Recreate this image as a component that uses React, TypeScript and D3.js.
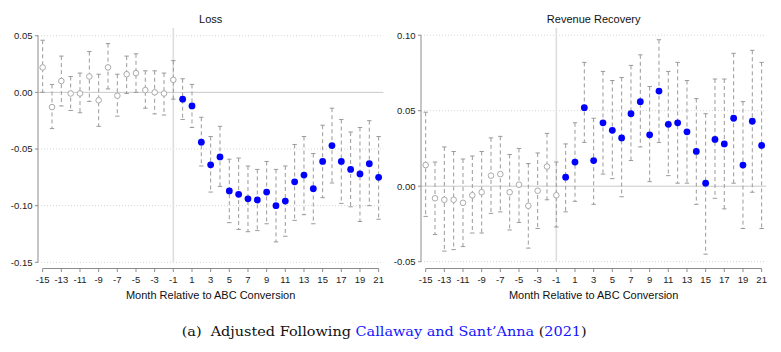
import React from "react";
import * as d3 from "d3";

const months = [
  -15, -14, -13, -12, -11, -10, -9, -8, -7, -6, -5, -4, -3, -2, -1, 0, 1, 2, 3,
  4, 5, 6, 7, 8, 9, 10, 11, 12, 13, 14, 15, 16, 17, 18, 19, 20, 21,
];
const xTicks = [-15, -13, -11, -9, -7, -5, -3, -1, 1, 3, 5, 7, 9, 11, 13, 15, 17, 19, 21];

// Loss panel
const lossEst = [
  0.022, -0.013, 0.01, -0.001, -0.001, 0.014, -0.007, 0.022, -0.003, 0.016, 0.017, 0.002, 0.0, -0.001,
  0.011, -0.006, -0.012, -0.044, -0.064, -0.057, -0.087, -0.09, -0.094, -0.095, -0.088, -0.1, -0.096,
  -0.079, -0.073, -0.085, -0.061, -0.047, -0.061, -0.068, -0.072, -0.063, -0.075,
];
const lossHi = [
  0.046, 0.007, 0.032, 0.014, 0.017, 0.036, 0.016, 0.043, 0.016, 0.032, 0.034, 0.019, 0.019, 0.017,
  0.028, 0.012, 0.007, -0.022, -0.039, -0.03, -0.059, -0.058, -0.065, -0.068, -0.061, -0.068, -0.065,
  -0.046, -0.039, -0.054, -0.029, -0.014, -0.024, -0.035, -0.031, -0.025, -0.039,
];
const lossLo = [
  0.0, -0.032, -0.012, -0.016, -0.018, -0.008, -0.03, 0.003, -0.021, -0.001, 0.0, -0.014, -0.019, -0.02,
  -0.006, -0.024, -0.031, -0.065, -0.088, -0.083, -0.115, -0.121, -0.123, -0.122, -0.116, -0.132, -0.127,
  -0.113, -0.108, -0.116, -0.093, -0.08, -0.098, -0.101, -0.114, -0.1, -0.112,
];
const lossTicks = [0.05, 0, -0.05, -0.1, -0.15];

// Revenue recovery panel
const revEst = [
  0.014, -0.008, -0.009, -0.009, -0.011, -0.006, -0.004, 0.007, 0.008, -0.004, 0.001, -0.013, -0.003,
  0.013, -0.006, 0.006, 0.016, 0.052, 0.017, 0.042, 0.037, 0.032, 0.048, 0.056, 0.034, 0.063, 0.041,
  0.042, 0.036, 0.023, 0.002, 0.031, 0.028, 0.045, 0.014, 0.043, 0.027,
];
const revHi = [
  0.049, 0.016, 0.026, 0.023, 0.018, 0.02, 0.023, 0.032, 0.033, 0.021, 0.025, 0.015, 0.022, 0.035,
  0.016, 0.028, 0.042, 0.082, 0.045, 0.076, 0.07, 0.072, 0.08, 0.087, 0.066, 0.097, 0.076, 0.082, 0.07,
  0.058, 0.048, 0.071, 0.071, 0.088, 0.056, 0.09, 0.082,
];
const revLo = [
  -0.02, -0.032, -0.043, -0.042, -0.04, -0.031, -0.031, -0.018, -0.017, -0.029, -0.024, -0.041, -0.028,
  -0.009, -0.027, -0.017, -0.01, 0.029, -0.012, 0.008, 0.005, -0.007, 0.017, 0.026, 0.003, 0.029, 0.007,
  0.002, 0.002, -0.012, -0.045, -0.008, -0.015, 0.002, -0.028, -0.004, -0.028,
];
const revTicks = [0.1, 0.05, 0, -0.05];

const FONT = "'Liberation Sans', Arial, sans-serif";
const fmt = (v: number) => d3.format(".2f")(v).replace("\u2212", "-");

type PanelProps = {
  title: string;
  left: number;
  right: number;
  yDomain: [number, number];
  yRange: [number, number];
  ticks: number[];
  est: number[];
  lo: number[];
  hi: number[];
};

const Panel = ({ title, left, right, yDomain, yRange, ticks, est, lo, hi }: PanelProps) => {
  const x = d3.scaleLinear().domain([-15.5, 21.5]).range([left, right]);
  const y = d3.scaleLinear().domain(yDomain).range(yRange);
  const axisY = 268.5;

  return (
    <g fontFamily={FONT}>
      {/* dotted grid */}
      {ticks.map((t) => (
        <line
          key={"g" + t}
          x1={left}
          x2={right}
          y1={y(t)}
          y2={y(t)}
          stroke={t === 0 ? "#c8c8c8" : "#d4d4d4"}
          strokeDasharray={t === 0 ? null : "1,2"}
          strokeWidth={1}
        />
      ))}
      {/* reference line at -1 */}
      <line x1={x(-1)} x2={x(-1)} y1={28} y2={yRange[0]} stroke="#dedede" strokeWidth={1.6} />

      {/* y axis */}
      <line x1={left} x2={left} y1={yRange[1]} y2={yRange[0]} stroke="#8c8c8c" />
      {ticks.map((t) => (
        <g key={"t" + t}>
          <line x1={left - 3} x2={left} y1={y(t)} y2={y(t)} stroke="#8c8c8c" />
          <text x={left - 5.5} y={y(t)} dy="0.35em" textAnchor="end" fontSize={9.5} fill="#222">
            {fmt(t)}
          </text>
        </g>
      ))}

      {/* x axis */}
      <line x1={x(-15)} x2={x(21)} y1={axisY} y2={axisY} stroke="#8c8c8c" />
      {xTicks.map((t) => (
        <g key={"x" + t}>
          <line x1={x(t)} x2={x(t)} y1={axisY} y2={axisY + 3.5} stroke="#8c8c8c" />
          <text x={x(t)} y={axisY + 14} textAnchor="middle" fontSize={9.5} fill="#222">
            {t}
          </text>
        </g>
      ))}
      <text x={(left + right) / 2} y={299} textAnchor="middle" fontSize={11} fill="#111">
        Month Relative to ABC Conversion
      </text>

      <text x={(left + right) / 2} y={23} textAnchor="middle" fontSize={11} fill="#111">
        {title}
      </text>

      {/* error bars */}
      {months.map((m, i) => (
        <g key={"e" + m} stroke="#9a9a9a" strokeWidth={1}>
          <line x1={x(m)} x2={x(m)} y1={y(hi[i])} y2={y(lo[i])} strokeDasharray="4,3" />
          <line x1={x(m) - 2.2} x2={x(m) + 2.2} y1={y(hi[i])} y2={y(hi[i])} />
          <line x1={x(m) - 2.2} x2={x(m) + 2.2} y1={y(lo[i])} y2={y(lo[i])} />
        </g>
      ))}

      {/* point estimates */}
      {months.map((m, i) =>
        m < 0 ? (
          <circle key={"p" + m} cx={x(m)} cy={y(est[i])} r={2.8} fill="#fff" stroke="#aaaaaa" strokeWidth={1} />
        ) : (
          <circle key={"p" + m} cx={x(m)} cy={y(est[i])} r={3.4} fill="#0000ff" />
        )
      )}
    </g>
  );
};

export default function App() {
  return (
    <svg
      width={781}
      height={352}
      style={{ position: "absolute", left: 0, top: 0, background: "#fff" }}
    >
      <Panel
        title="Loss"
        left={38}
        right={383.3}
        yDomain={[-0.15, 0.05]}
        yRange={[262.3, 35.7]}
        ticks={lossTicks}
        est={lossEst}
        lo={lossLo}
        hi={lossHi}
      />
      <Panel
        title="Revenue Recovery"
        left={421}
        right={766.3}
        yDomain={[-0.05, 0.1]}
        yRange={[261.7, 35.2]}
        ticks={revTicks}
        est={revEst}
        lo={revLo}
        hi={revHi}
      />
      <text
        x={181.7}
        y={336}
        fontFamily="'DejaVu Serif', 'Liberation Serif', serif"
        fontSize={13}
        textLength={405}
        lengthAdjust="spacingAndGlyphs"
        fill="#111"
      >
        {"(a)\u00a0\u00a0Adjusted Following "}
        <tspan fill="#1515ff">Callaway and Sant’Anna</tspan>
        {" ("}
        <tspan fill="#1515ff">2021</tspan>
        {")"}
      </text>
    </svg>
  );
}
